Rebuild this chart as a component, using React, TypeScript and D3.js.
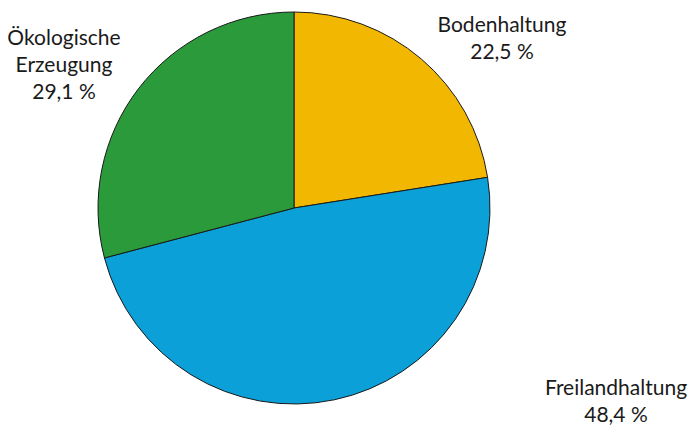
import React, { useEffect, useRef } from "react";
import * as d3 from "d3";

// chart data
const categories = ["Bodenhaltung", "Freilandhaltung", "Ökologische Erzeugung"];
const shares = [22.5, 48.4, 29.1];
const colors = ["#F2B700", "#0BA0D8", "#2A9A3A"];

// label layout (x centre, first baseline), one per slice
const labelLines = [["Bodenhaltung"], ["Freilandhaltung"], ["Ökologische", "Erzeugung"]];
const labelAnchors: [number, number][] = [
  [502, 32],
  [616, 395],
  [64, 45],
];

const width = 692;
const height = 425;

const PieChart = () => {
  const svgRef = useRef<SVGSVGElement | null>(null);

  useEffect(() => {
    const svg = d3.select(svgRef.current);
    svg.selectAll("*").remove();

    const cx = 294;
    const cy = 208;
    const radius = 196;

    const data = categories.map((c, i) => ({ name: c, value: shares[i], color: colors[i] }));

    const pie = d3
      .pie<any>()
      .sort(null)
      .value((d) => d.value);
    const arc = d3.arc<any>().innerRadius(0).outerRadius(radius);

    const g = svg.append("g").attr("transform", `translate(${cx},${cy})`);

    g.selectAll("path")
      .data(pie(data))
      .enter()
      .append("path")
      .attr("d", arc)
      .attr("fill", (d) => d.data.color)
      .attr("stroke", "#1a1a1a")
      .attr("stroke-width", 1);

    // labels
    const lh = 27;
    data.forEach((d, i) => {
      const [lx, ly] = labelAnchors[i];
      const lines = [...labelLines[i], d3.format(".1f")(d.value).replace(".", ",") + " %"];
      const t = svg
        .append("text")
        .attr("text-anchor", "middle")
        .attr("font-family", "Lato, 'Open Sans', sans-serif")
        .attr("font-size", 21)
        .attr("fill", "#1a1a1a");
      lines.forEach((ln, j) => {
        t.append("tspan").attr("x", lx).attr("y", ly + j * lh).text(ln);
      });
    });
  }, []);

  return <svg ref={svgRef} width={width} height={height} style={{ display: "block" }}></svg>;
};

export default function App() {
  return (
    <div style={{ position: "fixed", left: 0, top: 0, background: "#fff" }}>
      <PieChart />
    </div>
  );
}
